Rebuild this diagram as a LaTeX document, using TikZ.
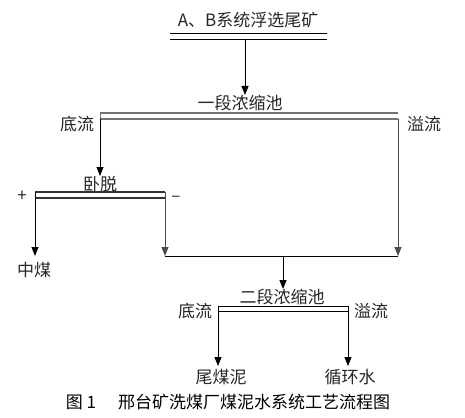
\documentclass[tikz,border=0pt]{standalone}
\usepackage{fontspec}
\setmainfont{Noto Sans CJK SC}
\usetikzlibrary{arrows.meta}
\tikzset{
  lbl/.style={inner sep=0pt, font=\fontsize{17}{17}\selectfont, text=black!85},
  captext/.style={inner sep=0pt, font=\fontsize{17}{17}\selectfont},
  flow/.style={draw=black, line width=0.8pt, -{Triangle[length=9pt,width=7pt]}},
  pipe/.style={draw=black, line width=0.8pt},
  bar/.style={draw=black!55, line width=1.2pt},
  darkbar/.style={draw=black!80, line width=1.2pt},
}
\begin{document}
\begin{tikzpicture}[x=1pt,y=-1pt]
\useasboundingbox (0,0) rectangle (465,417);
% top feed
\node[lbl] (feed) at (248,20) {A、B系统浮选尾矿};
\coordinate (ul1) at (170,33); \coordinate (ur1) at (327,33);
\coordinate (ul2) at (170,39); \coordinate (ur2) at (327,39);
\draw[pipe] (ul1) -- (ur1);
\draw[pipe] (ul2) -- (ur2);
\coordinate (feedout) at (245,39);
% thickener 1
\node[lbl] (t1) at (240,103) {一段浓缩池};
\coordinate (t1a) at (100,113); \coordinate (t1b) at (398,113);
\coordinate (t1c) at (100,119); \coordinate (t1d) at (398,119);
\draw[bar] (t1a) -- (t1b);
\draw[bar] (t1c) -- (t1d);
\draw[bar,line width=1pt] (t1a) -- (100,120);
\node[lbl] (uf1) at (77,124) {底流};
\node[lbl] (of1) at (424,124) {溢流};
\coordinate (feedin) at (245,95);
\draw[flow] (feedout) -- (feedin);
% decanter
\node[lbl] (wt) at (100,184) {卧脱};
\coordinate (wa) at (35,192); \coordinate (wb) at (165,192);
\coordinate (wc) at (35,198); \coordinate (wd) at (165,198);
\draw[darkbar] (wa) -- (wb);
\draw[darkbar] (wc) -- (wd);
\coordinate (win) at (100,176);
\draw[flow] (t1c) -- (win);
\node[lbl] (plus) at (22,196) {+};
\node[lbl] (minus) at (176,199) {–};
% outputs
\coordinate (mid) at (35,256);
\node[lbl] (zm) at (34,270) {中煤};
\draw[flow] (wa) -- (mid);
\coordinate (wout) at (165,256);
\coordinate (oout) at (398,256);
\draw[flow,draw=black!70] (wb) -- (wout);
\draw[flow,draw=black!70] (t1d) -- (oout);
\draw[pipe] (wout) -- (oout);
% thickener 2
\coordinate (j) at (283,256);
\node[lbl] (t2) at (282,297) {二段浓缩池};
\coordinate (t2in) at (283,289);
\draw[flow] (j) -- (t2in);
\coordinate (sa) at (218,306); \coordinate (sb) at (348,306);
\coordinate (sc) at (218,311); \coordinate (sd) at (348,311);
\draw[pipe] (sa) -- (sb);
\draw[pipe] (sc) -- (sd);
\node[lbl] (uf2) at (195,311) {底流};
\node[lbl] (of2) at (371,311) {溢流};
\coordinate (ta) at (218,366); \coordinate (tb) at (348,366);
\draw[flow] (sa) -- (ta);
\draw[flow] (sb) -- (tb);
\node[lbl] (wmn) at (221,377) {尾煤泥};
\node[lbl] (xhs) at (350,377) {循环水};
% caption
\node[captext] (capn) at (81,402) {图 1};
\node[captext] (capt) at (254,402) {邢台矿洗煤厂煤泥水系统工艺流程图};
\end{tikzpicture}
\end{document}
